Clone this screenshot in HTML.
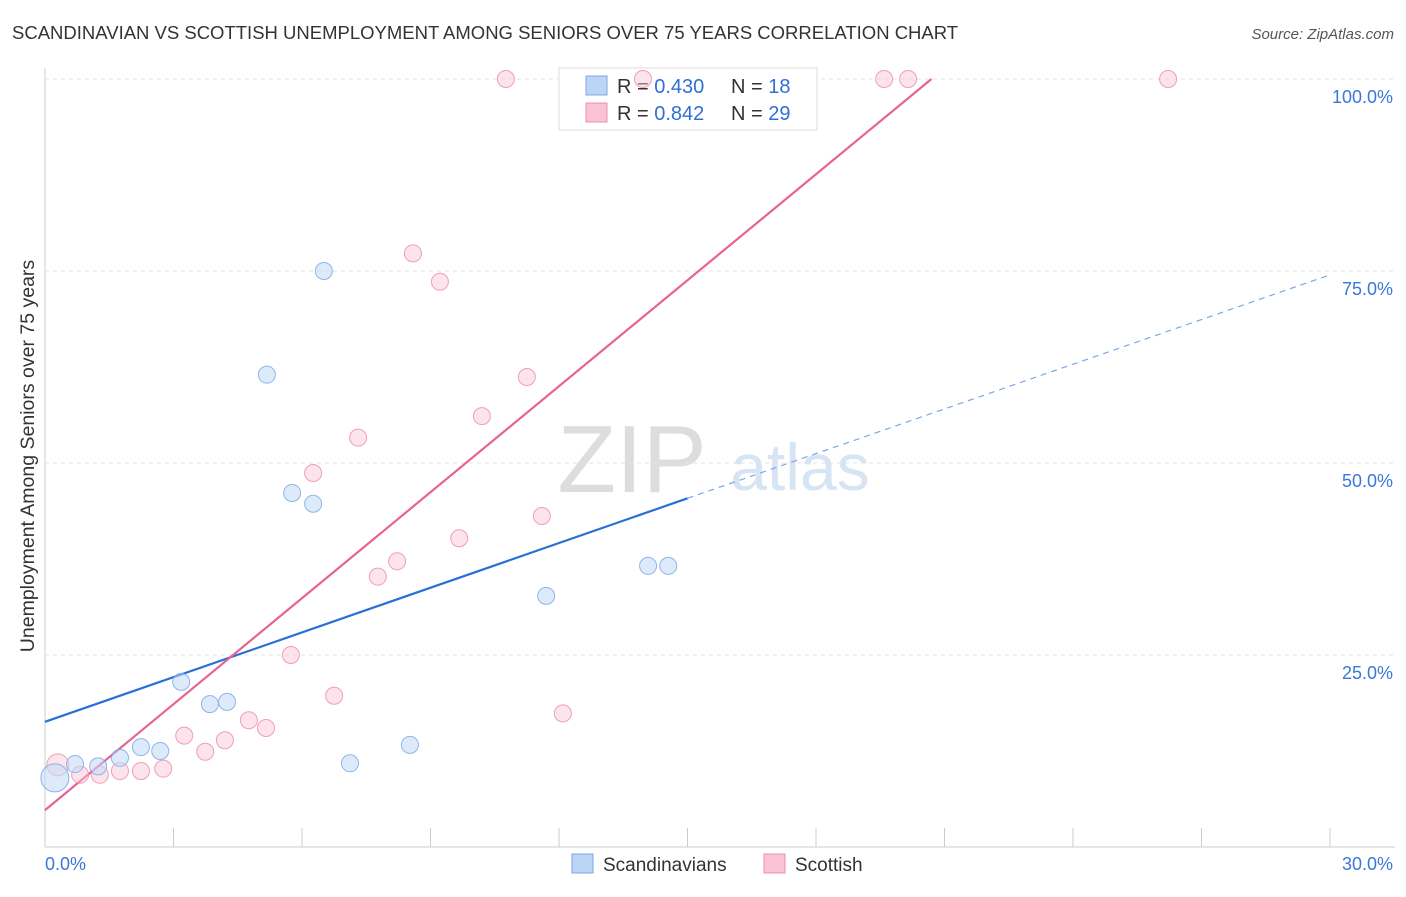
<!DOCTYPE html>
<html><head><meta charset="utf-8"><style>
body{margin:0;background:#fff;font-family:"Liberation Sans",sans-serif;}
svg text{font-family:"Liberation Sans",sans-serif;}
</style></head><body>
<svg id="chart" width="1406" height="892" xmlns="http://www.w3.org/2000/svg">
<text x="12" y="39" font-size="18.5" fill="#333">SCANDINAVIAN VS SCOTTISH UNEMPLOYMENT AMONG SENIORS OVER 75 YEARS CORRELATION CHART</text>
<text x="1394" y="39" font-size="15" fill="#555" font-style="italic" text-anchor="end">Source: ZipAtlas.com</text>
<text x="34" y="456" font-size="19.5" fill="#333" text-anchor="middle" transform="rotate(-90 34 456)">Unemployment Among Seniors over 75 years</text>
<text x="632" y="492" font-size="96" fill="#ddd" font-family="Liberation Serif" text-anchor="middle">ZIP</text>
<text x="800" y="490" font-size="66" fill="#d6e4f3" text-anchor="middle">atlas</text>
<g id="grid"></g>
<g>
<rect x="559" y="68" width="258" height="62" fill="#fff" stroke="#ddd"/>
<rect x="586" y="76" width="21" height="19" fill="#bcd5f5" stroke="#7aa8e6"/>
<rect x="586" y="103" width="21" height="19" fill="#f9c3d3" stroke="#ec8fab"/>
<text x="617" y="93" font-size="20" fill="#333">R = <tspan fill="#2f6fd6">0.430</tspan></text>
<text x="731" y="93" font-size="20" fill="#333">N =  <tspan fill="#2f6fd6">18</tspan></text>
<text x="617" y="120" font-size="20" fill="#333">R =  <tspan fill="#2f6fd6">0.842</tspan></text>
<text x="731" y="120" font-size="20" fill="#333">N = <tspan fill="#2f6fd6">29</tspan></text>
</g>
<g id="lines"></g><g id="points" opacity="0.85"></g>
<g>
<rect x="572" y="854" width="21" height="19" fill="#bcd5f5" stroke="#7aa8e6"/>
<text x="603" y="871" font-size="19" fill="#333">Scandinavians</text>
<rect x="764" y="854" width="21" height="19" fill="#f9c3d3" stroke="#ec8fab"/>
<text x="795" y="871" font-size="19" fill="#333">Scottish</text>
</g>
</svg>
<script>
const yTicks=[25,50,75,100];
const yTickLabels=["25.0%","50.0%","75.0%","100.0%"];
const xTickCount=10;
const blueX=[0.23,0.70,1.24,1.75,2.24,2.69,3.18,3.85,4.25,5.18,5.77,6.26,6.51,7.12,8.52,11.70,14.08,14.55];
const blueY=[9.0,10.8,10.5,11.6,13.0,12.5,21.5,18.6,18.9,61.5,46.1,44.7,75.0,10.9,13.3,32.7,36.6,36.6];
const pinkX=[0.30,0.82,1.28,1.75,2.24,2.76,3.25,3.74,4.20,4.76,5.16,5.74,6.26,6.75,7.31,7.77,8.22,8.59,9.22,9.67,10.20,10.76,11.25,11.60,12.09,13.96,19.59,20.15,26.22];
const pinkY=[10.7,9.4,9.4,9.9,9.9,10.2,14.5,12.4,13.9,16.5,15.5,25.0,48.7,19.7,53.3,35.2,37.2,77.3,73.6,40.2,56.1,100,61.2,43.1,17.4,100,100,100,100];
const blueLine=[16.3,1.94];
const pinkLine=[4.8,4.6];
const NS="http://www.w3.org/2000/svg";
const X=v=>45+v*(1330-45)/30;
const Y=v=>847-v*7.68;
function mk(t,a,p){const e=document.createElementNS(NS,t);for(const k in a)e.setAttribute(k,a[k]);p.appendChild(e);return e;}
const g=document.getElementById('grid');
let ax=mk('line',{x1:45,y1:68,x2:45,y2:847,stroke:'#ccc'},g);


let bx=mk('line',{x1:45,y1:847,x2:1395,y2:847,stroke:'#ccc'},g);


yTicks.forEach((v,i)=>{
 const l=mk('line',{x1:45,y1:Y(v),x2:1395,y2:Y(v),stroke:'#e3e3e3','stroke-dasharray':'4,4'},g);
 
 
 const t=mk('text',{x:1393,y:Y(v)+24,'font-size':18,fill:'#3a78d8','text-anchor':'end'},g);
 t.textContent=yTickLabels[i];
 
 
});
for(let i=1;i<=xTickCount;i++){
 const x=X(i*3);
 const l=mk('line',{x1:x,y1:828,x2:x,y2:847,stroke:'#ccc'},g);
 
 
}
[[0,"0.0%","start",45],[30,"30.0%","end",1393]].forEach(d=>{
 const t=mk('text',{x:d[3],y:870,'font-size':18,fill:'#3a78d8','text-anchor':d[2]},g);
 t.textContent=d[1];
 
 
});
const L=document.getElementById('lines');
let b1=mk('line',{x1:X(0),y1:Y(blueLine[0]),x2:X(15),y2:Y(blueLine[0]+15*blueLine[1]),stroke:'#2a6fd6','stroke-width':2.2},L);


let b2=mk('line',{x1:X(15),y1:Y(blueLine[0]+15*blueLine[1]),x2:X(30),y2:Y(blueLine[0]+30*blueLine[1]),stroke:'#7aa8e6','stroke-width':1.2,'stroke-dasharray':'6,5'},L);


const pEnd=(100-pinkLine[0])/pinkLine[1];
let p1=mk('line',{x1:X(0),y1:Y(pinkLine[0]),x2:X(pEnd),y2:Y(100),stroke:'#e8638f','stroke-width':2.2},L);


const P=document.getElementById('points');
pinkX.forEach((x,i)=>{
 const c=mk('circle',{cx:X(x),cy:Y(pinkY[i]),r:i==0?11:8.5,fill:'#f9c3d3','fill-opacity':0.55,stroke:'#ec8fab','stroke-width':1},P);
 
 
});
blueX.forEach((x,i)=>{
 const c=mk('circle',{cx:X(x),cy:Y(blueY[i]),r:i==0?14:8.5,fill:'#bcd5f5','fill-opacity':0.6,stroke:'#7aa8e6','stroke-width':1},P);
 
 
});
</script>
</body></html>
